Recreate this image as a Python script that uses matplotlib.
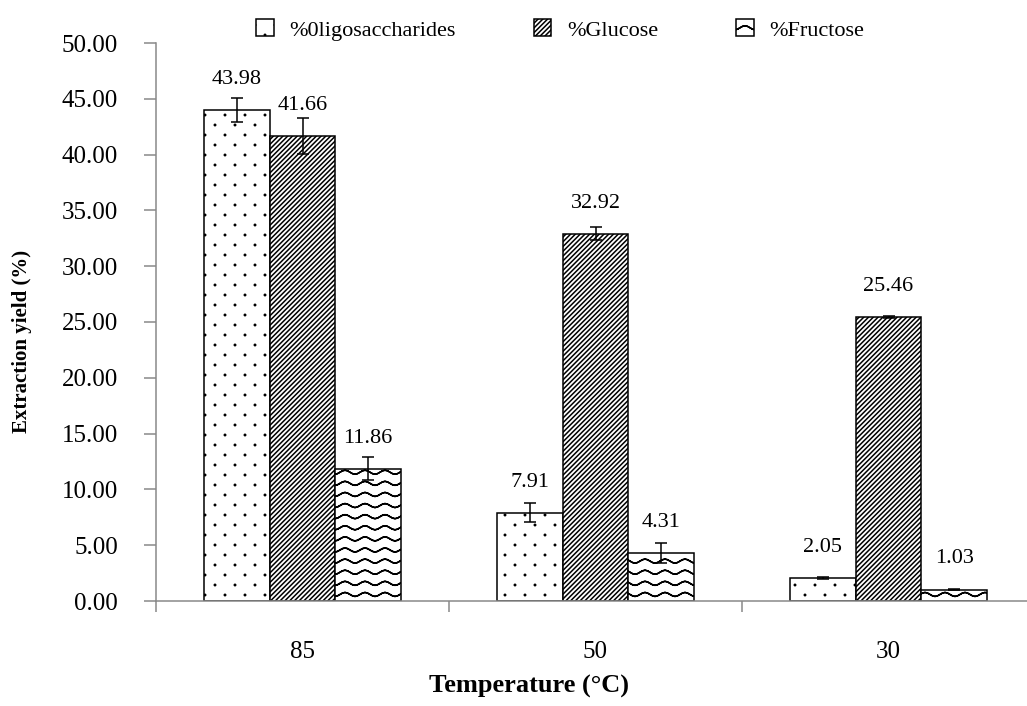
import warnings
import numpy as np
import matplotlib
matplotlib.use("Agg")
import matplotlib.pyplot as plt
import matplotlib.hatch as mhatch
from matplotlib.path import Path

warnings.filterwarnings("ignore")

temperatures = ["85", "50", "30"]
series_names = ["%0ligosaccharides", "%Glucose", "%Fructose"]
oligo = [43.98, 7.91, 2.05]
glucose = [41.66, 32.92, 25.46]
fructose = [11.86, 4.31, 1.03]
oligo_err = [1.1, 0.85, 0.12]
glucose_err = [1.6, 0.6, 0.06]
fructose_err = [1.0, 0.9, 0.08]
yticks = [0, 5, 10, 15, 20, 25, 30, 35, 40, 45, 50]


class DotHatch(mhatch.HatchPatternBase):
    """sparse staggered dots, selected with 'd'"""
    rows = 10
    cols = 5
    size = 0.007

    def __init__(self, hatch, density):
        circle = Path.unit_circle()
        self.shape_v = circle.vertices
        self.shape_c = circle.codes
        self.num_vertices = (self.rows * self.cols * len(self.shape_v)
                             if "d" in hatch else 0)

    def set_vertices_and_codes(self, vertices, codes):
        vs, cs = [], []
        for r in range(self.rows):
            shift = 0.5 / self.cols if r % 2 else 0.0
            for c in range(self.cols):
                x = c / self.cols + shift + 0.05
                y = (r + 0.5) / self.rows
                vs.append(self.shape_v * self.size + [x, y])
                cs.append(self.shape_c)
        np.concatenate(vs, out=vertices)
        np.concatenate(cs, out=codes)


class WaveHatch(mhatch.HatchPatternBase):
    """wavy horizontal lines, selected with '~'"""
    rows = 9
    periods = 5
    npts = 41
    amp = 0.02

    def __init__(self, hatch, density):
        self.num_vertices = self.rows * self.npts * 2 if "~" in hatch else 0

    def set_vertices_and_codes(self, vertices, codes):
        xs = np.linspace(0, 1, self.npts)
        vs, cs = [], []
        for r in range(self.rows):
            ys = (r + 0.5) / self.rows + self.amp * np.sin(2 * np.pi * self.periods * xs)
            line = np.column_stack([xs, ys])
            # forward then back so the filled area is zero
            vs.append(np.concatenate([line, line[::-1]]))
            c = np.full(self.npts * 2, Path.LINETO, dtype=Path.code_type)
            c[0] = Path.MOVETO
            cs.append(c)
        np.concatenate(vs, out=vertices)
        np.concatenate(cs, out=codes)


mhatch._hatch_types.extend([DotHatch, WaveHatch])

plt.rcParams["font.family"] = ["Liberation Serif", "DejaVu Serif"]
plt.rcParams["hatch.linewidth"] = 1.1

axis_gray = "#898989"

fig = plt.figure(figsize=(10.27, 7.06), dpi=100)
# the category axis runs a little past the right edge of the figure
ax = fig.add_axes([156 / 1027, 105 / 706, 879 / 1027, 558 / 706])

x = np.arange(len(temperatures))
width = 0.224
series = [oligo, glucose, fructose]
errors = [oligo_err, glucose_err, fructose_err]
hatches = ["d", "///////", "~"]

for i, (vals, errs, h, name) in enumerate(zip(series, errors, hatches, series_names)):
    pos = x + (i - 1) * width
    ax.bar(pos, vals, width, color="white", edgecolor="black", linewidth=1.1,
           hatch=h, label=name, zorder=2)
    ax.errorbar(pos, vals, yerr=errs, fmt="none", ecolor="black",
                elinewidth=1.1, capsize=4.3, capthick=1.1, zorder=3)
    for xp, v in zip(pos, vals):
        ax.annotate(f"{v:.2f}", (xp, v), xytext=(0, 22), textcoords="offset points",
                    ha="center", va="center", fontsize=16)

ax.set_xlim(-0.5, 2.5)
ax.set_ylim(0, 50)
ax.set_yticks(yticks)
ax.set_yticklabels([f"{t:.2f}" for t in yticks])

# category boundaries carry the tick marks, the labels sit at the centres
ax.set_xticks([-0.5, 0.5, 1.5, 2.5])
ax.set_xticklabels([])
ax.set_xticks(x, minor=True)
ax.set_xticklabels(temperatures, minor=True)
ax.tick_params(axis="x", which="major", direction="out", length=8, width=1.1,
               color=axis_gray)
ax.tick_params(axis="x", which="minor", length=0, pad=29, labelsize=18)
ax.tick_params(axis="y", direction="out", length=8.5, width=1.1, color=axis_gray,
               pad=19, labelsize=18)

for side in ["top", "right"]:
    ax.spines[side].set_visible(False)
for side in ["left", "bottom"]:
    ax.spines[side].set_color(axis_gray)
    ax.spines[side].set_linewidth(1.1)

ax.set_ylabel("Extraction yield (%)", fontsize=15, fontweight="bold")
ax.yaxis.set_label_coords((22 - 156) / 879, (601 - 341) / 558)
ax.yaxis.label.set_va("center")
ax.set_xlabel("Temperature (°C)", fontsize=19, fontweight="bold")
ax.xaxis.set_label_coords((529 - 156) / 879, (601 - 686) / 558)
ax.xaxis.label.set_va("center")

fig.legend(loc="center", bbox_to_anchor=(560 / 1027, 1 - 30 / 706), ncol=3,
           frameon=False, fontsize=16, handlelength=0.8, handleheight=0.8,
           handletextpad=0.7, columnspacing=3.5)

fig.savefig("out.png", dpi=100)
